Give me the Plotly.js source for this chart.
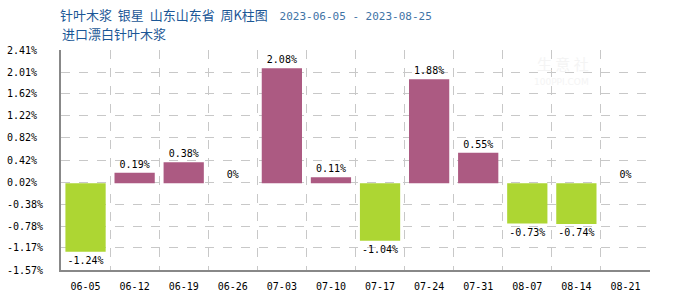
<!DOCTYPE html>
<html>
<head>
<meta charset="utf-8">
<script src="https://cdn.plot.ly/plotly-3.0.1.min.js"></script>
<style>html,body{margin:0;padding:0;background:#fff;}#chart{width:700px;height:300px;}</style>
</head>
<body>
<div id="chart"></div>
<script>
const categories = ["06-05","06-12","06-19","06-26","07-03","07-10","07-17","07-24","07-31","08-07","08-14","08-21"];
const changes = [-1.24, 0.19, 0.38, 0, 2.08, 0.11, -1.04, 1.88, 0.55, -0.73, -0.74, 0];
const barLabels = ["-1.24%","0.19%","0.38%","0%","2.08%","0.11%","-1.04%","1.88%","0.55%","-0.73%","-0.74%","0%"];
const yTicks = [2.41, 2.01, 1.62, 1.22, 0.82, 0.42, 0.02, -0.38, -0.78, -1.17, -1.57];

const upColor = "#ac5a82", downColor = "#add633";
const yTickText = yTicks.map(v => {
  const s = v.toFixed(2) + "%";
  return v < 0 ? s : s + "\u00a0";
});
const mono = "DejaVu Sans Mono, monospace";
const sp = "\u00a0\u00a0";

const trace = {
  type: "bar",
  x: categories,
  y: changes,
  text: barLabels,
  textposition: "outside",
  textfont: {family: mono, size: 10, color: "#000"},
  cliponaxis: false,
  constraintext: "none",
  marker: {color: changes.map(v => v < 0 ? downColor : upColor)},
  width: 0.82,
  hoverinfo: "none"
};
const gridTrace = {
  type: "scatter", x: [-0.5, 11.5], y: [0, 0], xaxis: "x2", mode: "none", hoverinfo: "none", showlegend: false
};

const layout = {
  width: 700, height: 300,
  margin: {l: 61, r: 50, t: 50, b: 30},
  paper_bgcolor: "#fff", plot_bgcolor: "#fff",
  showlegend: false,
  title: {
    text: "针叶木浆" + sp + "银星" + sp + "山东山东省" + sp + "周K柱图" + sp + "\u00a0\u00a0<span style='font-family:DejaVu Sans Mono;color:#3f73a6;font-size:11px'>2023-06-05 - 2023-08-25</span>",
    x: 60/700, xanchor: "left", xref: "container",
    y: 1 - 15/300, yanchor: "middle", yref: "container",
    font: {family: "Noto Sans CJK SC", size: 13, color: "#1b5796"}
  },
  xaxis: {
    type: "category",
    range: [-0.5, 11.5],
    showgrid: false,
    showline: true, linecolor: "#888", linewidth: 2,
    ticks: "", ticklabelstandoff: 6,
    tickfont: {family: mono, size: 10, color: "#000"},
    fixedrange: true
  },
  xaxis2: {
    overlaying: "x", range: [-0.5, 11.5], tick0: -0.5, dtick: 1,
    showticklabels: false, ticks: "",
    showgrid: true, gridcolor: "#c8c8c8", griddash: "dash", gridwidth: 1,
    zeroline: false, showline: false
  },
  yaxis: {
    range: [-1.57, 2.41],
    tickvals: yTicks, ticktext: yTickText,
    showgrid: true, gridcolor: "#c8c8c8", griddash: "dash", gridwidth: 1,
    zeroline: false,
    showline: true, linecolor: "#888", linewidth: 2,
    ticks: "", ticklabelstandoff: 14,
    tickfont: {family: mono, size: 10, color: "#000"},
    fixedrange: true
  },
  annotations: [
    {text: "进口漂白针叶木浆", xref: "paper", yref: "paper", x: -1/589, xanchor: "left",
     y: (270 - 34) / 220, yanchor: "middle", showarrow: false,
     font: {family: "Noto Sans CJK SC", size: 13, color: "#1b5796"}},
    {text: "生 意 社", xref: "paper", yref: "paper", x: 0.9, y: (270 - 63) / 220, yanchor: "middle", showarrow: false,
     font: {family: "Noto Sans CJK SC", size: 15, color: "#f4f4f4"}},
    {text: "100PPI.COM", xref: "paper", yref: "paper", x: 0.9, y: (270 - 82) / 220, yanchor: "middle", showarrow: false,
     font: {family: "DejaVu Sans", size: 9, color: "#f4f4f4"}}
  ]
};
Plotly.newPlot("chart", [gridTrace, trace], layout, {displayModeBar: false, staticPlot: true});
</script>
</body>
</html>
